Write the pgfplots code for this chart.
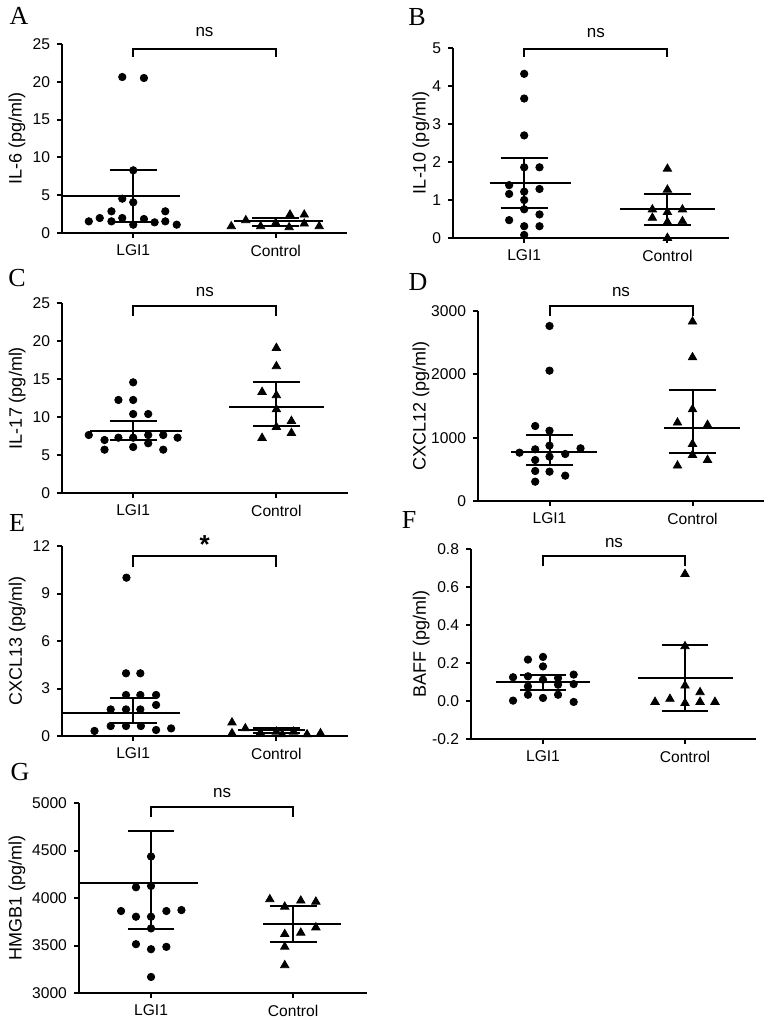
\documentclass[border=0pt]{standalone}
\usepackage{pgfplots}
\pgfplotsset{compat=1.18}
\usepackage{fontspec}
\setmainfont{Liberation Sans}
\newfontfamily\letterfont{Liberation Serif}

\pgfplotsset{
  panel/.style={
    scale only axis,
    anchor=south west,
    axis lines=left,
    axis line style={-, line width=1pt, black},
    xmin=-0.5, xmax=1.5,
    xtick={0,1}, xticklabels={LGI1,Control},
    tick align=outside,
    major tick length=2.5pt,
    tick style={line width=1pt, black},
    tick label style={font=\fontsize{7.8}{9}\selectfont},
    /pgf/number format/.cd, 1000 sep={}, assume math mode=true, /pgfplots/.cd,
    every axis y label/.style={at={(axis description cs:-0.157,0.5)}, rotate=90, anchor=center, font=\fontsize{9}{10}\selectfont},
    clip=false,
    scaled y ticks=false,
  },
  pts/.style={only marks, mark=*, mark size=1.85pt, black},
  tri/.style={only marks, mark=triangle*, mark size=2.4pt, black},
  ln/.style={black, line width=1pt, mark=none, forget plot},
}
\newcommand\sig[1]{\fontsize{8.5}{10}\selectfont #1}

\begin{document}
\begin{tikzpicture}
\useasboundingbox (0,0) rectangle (386pt,-510pt);

% ---------------- A ----------------
\begin{axis}[panel, at={(31pt,-116.5pt)}, width=142.5pt, height=94.5pt,
  ymin=0, ymax=25, ytick={0,5,10,15,20,25},
  ylabel={IL-6 (pg/ml)}, ylabel style={at={(axis description cs:-0.158,0.5)}}]
\addplot[pts] coordinates {(-0.077,20.63) (0.075,20.5) (0,8.29) (-0.077,4.54) (0,4.06) (-0.153,2.87) (0.225,2.87) (-0.312,1.54) (-0.235,1.98) (-0.153,1.54) (-0.077,1.98) (0,1.10) (0.075,1.85) (0.15,1.41) (0.225,1.54) (0.305,1.10)};
\addplot[tri] coordinates {(0.688,0.88) (0.79,1.68) (0.894,0.88) (1,1.32) (1.094,0.75) (1.1,2.42) (1.2,2.42) (1.2,1.23) (1.305,0.88)};
\addplot[ln] coordinates {(-0.5,4.85) (0.33,4.85)};
\addplot[ln] coordinates {(-0.165,8.29) (0.165,8.29)};
\addplot[ln] coordinates {(-0.165,1.50) (0.165,1.50)};
\addplot[ln] coordinates {(0,8.29) (0,1.50)};
\addplot[ln] coordinates {(0.71,1.54) (1.33,1.54)};
\addplot[ln] coordinates {(0.835,1.98) (1.165,1.98)};
\addplot[ln] coordinates {(0.835,0.97) (1.165,0.97)};
\addplot[ln] coordinates {(1,1.98) (1,0.97)};
\addplot[ln] coordinates {(0,23.3) (0,24.4) (1,24.4) (1,23.3)};
\node[anchor=base, yshift=6pt, font=\sig{}] at (axis cs:0.5,24.4) {ns};
\end{axis}

% ---------------- B ----------------
\begin{axis}[panel, at={(226.5pt,-119pt)}, width=138pt, height=95pt,
  xmin=-0.497, xmax=1.43,
  ymin=0, ymax=5, ytick={0,1,2,3,4,5},
  ylabel={IL-10 (pg/ml)}, ylabel style={at={(axis description cs:-0.116,0.5)}}]
\addplot[pts] coordinates {(0,4.32) (0,3.67) (0,2.70) (0,1.86) (0.107,1.86) (-0.105,1.39) (-0.105,1.16) (0,1.22) (0.107,1.29) (0,1.0) (0,0.755) (-0.105,0.47) (0.107,0.62) (0.107,0.31) (0,0.31) (0,0.08)};
\addplot[tri] coordinates {(1,1.82) (1,1.27) (0.895,0.75) (1,0.68) (1.105,0.75) (0.895,0.53) (1.105,0.44) (1,0.42) (1,0.0)};
\addplot[ln] coordinates {(-0.24,1.44) (0.33,1.44)};
\addplot[ln] coordinates {(-0.165,2.10) (0.165,2.10)};
\addplot[ln] coordinates {(-0.165,0.80) (0.165,0.80)};
\addplot[ln] coordinates {(0,2.10) (0,0.80)};
\addplot[ln] coordinates {(0.67,0.75) (1.33,0.75)};
\addplot[ln] coordinates {(0.835,1.17) (1.165,1.17)};
\addplot[ln] coordinates {(0.835,0.33) (1.165,0.33)};
\addplot[ln] coordinates {(1,1.17) (1,0.33)};
\addplot[ln] coordinates {(0,4.77) (0,4.98) (1,4.98) (1,4.77)};
\node[anchor=base, yshift=5.5pt, font=\sig{}] at (axis cs:0.5,4.98) {ns};
\end{axis}

% ---------------- C ----------------
\begin{axis}[panel, at={(31pt,-246.5pt)}, width=143pt, height=95pt,
  xmin=-0.497, xmax=1.5,
  ymin=0, ymax=25, ytick={0,5,10,15,20,25},
  ylabel={IL-17 (pg/ml)}, ylabel style={at={(axis description cs:-0.157,0.5)}}]
\addplot[pts] coordinates {(0,14.56) (-0.103,12.24) (0,12.24) (0,10.39) (0.105,10.39) (-0.31,7.63) (-0.2,6.97) (-0.103,7.28) (0,7.28) (0.105,7.63) (0.21,7.63) (0.31,7.28) (0.105,6.54) (-0.2,5.7) (0,6.05) (0.21,5.7)};
\addplot[tri] coordinates {(1,19.08) (1,16.67) (0.9,13.29) (1,12.85) (1,11.0) (1.105,9.47) (1,8.68) (0.9,7.24) (1.105,7.89)};
\addplot[ln] coordinates {(-0.3,8.16) (0.34,8.16)};
\addplot[ln] coordinates {(-0.165,9.51) (0.165,9.51)};
\addplot[ln] coordinates {(-0.165,6.97) (0.165,6.97)};
\addplot[ln] coordinates {(0,9.51) (0,6.97)};
\addplot[ln] coordinates {(0.67,11.32) (1.33,11.32)};
\addplot[ln] coordinates {(0.835,14.6) (1.165,14.6)};
\addplot[ln] coordinates {(0.835,8.77) (1.165,8.77)};
\addplot[ln] coordinates {(1,14.6) (1,8.77)};
\addplot[ln] coordinates {(0,23.3) (0,24.6) (1,24.6) (1,23.3)};
\node[anchor=base, yshift=5pt, font=\sig{}] at (axis cs:0.5,24.6) {ns};
\end{axis}

% ---------------- D ----------------
\begin{axis}[panel, at={(239pt,-250.5pt)}, width=143pt, height=95pt,
  ymin=0, ymax=3000, ytick={0,1000,2000,3000},
  ylabel={CXCL12 (pg/ml)}, ylabel style={at={(axis description cs:-0.199,0.5)}}]
\addplot[pts] coordinates {(0,2763) (0,2058) (-0.1,1184) (0,1110) (0,874) (-0.21,763) (-0.1,816) (0.217,832) (0.11,742) (-0.1,647) (0,700) (-0.1,474) (0,463) (0.11,400) (-0.1,305)};
\addplot[tri] coordinates {(1,2832) (1,2268) (1,1447) (0.895,1237) (1.105,1200) (1,900) (1,726) (0.895,558) (1.105,647)};
\addplot[ln] coordinates {(-0.27,779) (0.33,779)};
\addplot[ln] coordinates {(-0.165,1042) (0.165,1042)};
\addplot[ln] coordinates {(-0.165,568) (0.165,568)};
\addplot[ln] coordinates {(0,1042) (0,568)};
\addplot[ln] coordinates {(0.8,1158) (1.33,1158)};
\addplot[ln] coordinates {(0.835,1753) (1.165,1753)};
\addplot[ln] coordinates {(0.835,753) (1.165,753)};
\addplot[ln] coordinates {(1,1753) (1,753)};
\addplot[ln] coordinates {(0,2921) (0,3079) (1,3079) (1,2921)};
\node[anchor=base, yshift=4.7pt, font=\sig{}] at (axis cs:0.5,3079) {ns};
\end{axis}

% ---------------- E ----------------
\begin{axis}[panel, at={(31pt,-368pt)}, width=143pt, height=95pt,
  xmin=-0.497, xmax=1.5,
  ymin=0, ymax=12, ytick={0,3,6,9,12},
  ylabel={CXCL13 (pg/ml)}, ylabel style={at={(axis description cs:-0.157,0.5)}}]
\addplot[pts] coordinates {(-0.047,10.0) (-0.05,3.96) (0.05,3.96) (-0.05,2.59) (0.05,2.59) (0.16,2.59) (0.16,1.96) (-0.157,1.68) (-0.05,1.68) (0.05,1.68) (-0.157,0.63) (-0.05,0.63) (0.054,0.63) (0.16,0.38) (0.265,0.48) (-0.27,0.32)};
\addplot[tri] coordinates {(0.69,0.85) (0.783,0.48) (0.69,0.17) (0.888,0.21) (1,0.27) (1.04,0.1) (1.12,0.27) (1.214,0.1) (1.308,0.17)};
\addplot[ln] coordinates {(-0.5,1.43) (0.33,1.43)};
\addplot[ln] coordinates {(-0.165,2.42) (0.165,2.42)};
\addplot[ln] coordinates {(-0.165,0.84) (0.165,0.84)};
\addplot[ln] coordinates {(0,2.42) (0,0.84)};
\addplot[ln] coordinates {(0.73,0.38) (1.2,0.38)};
\addplot[ln] coordinates {(0.835,0.48) (1.165,0.48)};
\addplot[ln] coordinates {(0.835,0.2) (1.165,0.2)};
\addplot[ln] coordinates {(1,0.48) (1,0.2)};
\addplot[ln] coordinates {(0,10.7) (0,11.37) (1,11.37) (1,10.7)};
\node[anchor=base, yshift=1pt, font=\fontsize{13}{14}\selectfont\bfseries] at (axis cs:0.5,11.37) {*};
\end{axis}

% ---------------- F ----------------
\begin{axis}[panel, at={(235.5pt,-369.5pt)}, width=142.5pt, height=95pt,
  xmin=-0.507, xmax=1.5,
  ymin=-0.2, ymax=0.8, ytick={-0.2,0,0.2,0.4,0.6,0.8},
  yticklabels={-0.2,0.0,0.2,0.4,0.6,0.8},
  ylabel={BAFF (pg/ml)}, ylabel style={at={(axis description cs:-0.175,0.5)}}]
\addplot[pts] coordinates {(-0.106,0.218) (0,0.232) (0,0.182) (-0.211,0.125) (-0.106,0.130) (0,0.112) (0.106,0.121) (0.216,0.139) (-0.106,0.077) (0.106,0.086) (0.216,0.089) (-0.106,0.033) (0,0.016) (0.106,0.033) (-0.211,0.002) (0.216,-0.005)};
\addplot[tri] coordinates {(1,0.668) (1,0.288) (1,0.081) (1.106,0.046) (0.789,-0.005) (0.894,0.011) (1,-0.011) (1.106,-0.005) (1.211,-0.005)};
\addplot[ln] coordinates {(-0.33,0.098) (0.33,0.098)};
\addplot[ln] coordinates {(-0.165,0.135) (0.165,0.135)};
\addplot[ln] coordinates {(-0.165,0.060) (0.165,0.060)};
\addplot[ln] coordinates {(0,0.135) (0,0.060)};
\addplot[ln] coordinates {(0.67,0.121) (1.34,0.121)};
\addplot[ln] coordinates {(0.835,0.296) (1.165,0.296)};
\addplot[ln] coordinates {(0.835,-0.051) (1.165,-0.051)};
\addplot[ln] coordinates {(1,0.296) (1,-0.051)};
\addplot[ln] coordinates {(0,0.711) (0,0.763) (1,0.763) (1,0.711)};
\node[anchor=base, yshift=4.5pt, font=\sig{}] at (axis cs:0.5,0.763) {ns};
\end{axis}

% ---------------- G ----------------
\begin{axis}[panel, at={(39.5pt,-496.5pt)}, width=144pt, height=95pt,
  xmin=-0.507, xmax=1.52,
  ymin=3000, ymax=5000, ytick={3000,3500,4000,4500,5000},
  ylabel={HMGB1 (pg/ml)}, ylabel style={at={(axis description cs:-0.215,0.5)}}]
\addplot[pts] coordinates {(0,4437) (-0.106,4113) (0,4127) (-0.211,3863) (-0.106,3803) (0,3803) (0.108,3863) (0.214,3873) (0,3680) (-0.106,3514) (0,3461) (0.108,3486) (0,3169)};
\addplot[tri] coordinates {(0.836,3986) (0.941,3908) (1.054,3972) (1.16,3961) (1.16,3690) (0.941,3620) (1.054,3634) (0.941,3486) (0.941,3292)};
\addplot[ln] coordinates {(-0.51,4162) (0.33,4162)};
\addplot[ln] coordinates {(-0.165,4708) (0.165,4708)};
\addplot[ln] coordinates {(-0.165,3673) (0.165,3673)};
\addplot[ln] coordinates {(0,4708) (0,3673)};
\addplot[ln] coordinates {(0.79,3725) (1.335,3725)};
\addplot[ln] coordinates {(0.835,3919) (1.165,3919)};
\addplot[ln] coordinates {(0.835,3539) (1.165,3539)};
\addplot[ln] coordinates {(1,3919) (1,3539)};
\addplot[ln] coordinates {(0,4856) (0,4955) (1,4955) (1,4856)};
\node[anchor=base, yshift=5pt, font=\sig{}] at (axis cs:0.5,4955) {ns};
\end{axis}

% panel letters
\node[font=\fontsize{13}{14}\selectfont\letterfont] at (9.5pt,-8pt) {A};
\node[font=\fontsize{13}{14}\selectfont\letterfont] at (208.5pt,-8.5pt) {B};
\node[font=\fontsize{13}{14}\selectfont\letterfont] at (8.5pt,-139pt) {C};
\node[font=\fontsize{13}{14}\selectfont\letterfont] at (209pt,-141pt) {D};
\node[font=\fontsize{13}{14}\selectfont\letterfont] at (8.5pt,-261.5pt) {E};
\node[font=\fontsize{13}{14}\selectfont\letterfont] at (204.5pt,-260pt) {F};
\node[font=\fontsize{13}{14}\selectfont\letterfont] at (10pt,-386pt) {G};
\end{tikzpicture}
\end{document}
